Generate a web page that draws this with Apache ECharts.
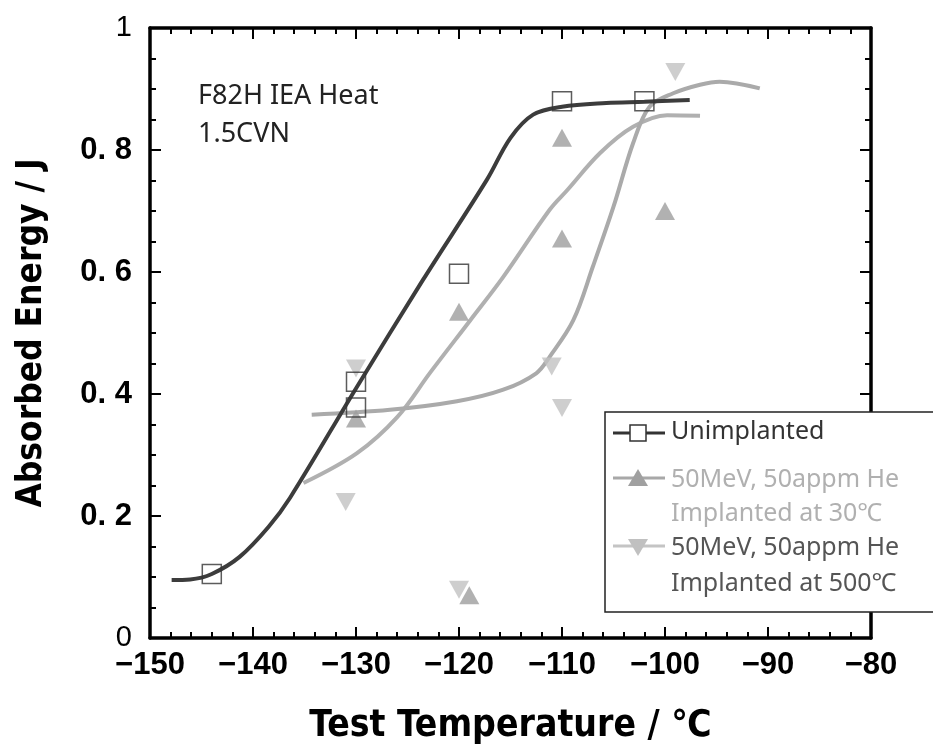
<!DOCTYPE html>
<html>
<head>
<meta charset="utf-8">
<script src="https://cdn.jsdelivr.net/npm/echarts@6/dist/echarts.min.js"></script>
<style>
  html, body { margin: 0; padding: 0; background: #fff; }
  #chart { width: 933px; height: 747px; }
</style>
</head>
<body>
<div id="chart"></div>
<script>
// measured points [temperature ℃, energy J]
const unimplPts = [[-144, 0.105], [-130, 0.42], [-130, 0.378], [-120, 0.597], [-110, 0.88], [-102, 0.88]];
const imp30Pts = [[-110, 0.82], [-110, 0.655], [-100, 0.70], [-120, 0.535], [-130, 0.36], [-119, 0.07]];
const imp500Pts = [[-99, 0.928], [-130, 0.442], [-131, 0.223], [-120, 0.079], [-111, 0.445], [-110, 0.377]];

// fitted curves
const unimplCurve = [[-147.9, 0.095], [-146.1, 0.096], [-144, 0.105], [-141.3, 0.133], [-138.5, 0.182], [-136.4, 0.23],
  [-129.9, 0.412], [-123.5, 0.587], [-117.3, 0.751], [-115, 0.82], [-112.8, 0.858], [-110, 0.871], [-105.7, 0.877],
  [-102, 0.879], [-97.6, 0.882]];
const imp30Curve = [[-135.1, 0.254], [-129.9, 0.303], [-126, 0.362], [-122.8, 0.435], [-118.9, 0.521], [-115.7, 0.592],
  [-111.2, 0.702], [-109.5, 0.734], [-106.3, 0.795], [-103.1, 0.838], [-99.8, 0.857], [-96.6, 0.856]];
const imp500Curve = [[-134.3, 0.366], [-126.7, 0.374], [-120.2, 0.388], [-115.7, 0.407], [-112.5, 0.434], [-111.2, 0.461],
  [-108.9, 0.521], [-107, 0.609], [-105, 0.707], [-103.1, 0.811], [-101.5, 0.871], [-99.2, 0.893], [-96.6, 0.907],
  [-94.7, 0.912], [-90.8, 0.901]];

const seriesNames = ['Unimplanted', '50MeV, 50appm He\nImplanted at 30℃', '50MeV, 50appm He\nImplanted at 500℃'];

const tickFont = '"Liberation Sans", Arial, sans-serif';
const nameFont = '"DejaVu Sans Condensed", "DejaVu Sans", sans-serif';
const legendFont = '"Noto Sans", "Liberation Sans", sans-serif';

const chart = echarts.init(document.getElementById('chart'));

function frameAxis(extra, minorSplit) {
  return Object.assign({
    type: 'value',
    axisLine: { show: true, onZero: false, lineStyle: { color: '#000', width: 3.5 } },
    axisTick: { show: true, inside: true, length: 11, lineStyle: { color: '#000', width: 2 } },
    minorTick: { show: true, splitNumber: minorSplit, length: 6, lineStyle: { color: '#000', width: 2 } },
    splitLine: { show: false }
  }, extra);
}

const option = {
  animation: false,
  backgroundColor: '#fff',
  title: {
    text: 'F82H IEA Heat\n1.5CVN',
    left: 193,
    top: 72,
    textStyle: { fontFamily: legendFont, fontSize: 27, fontWeight: 'normal', color: '#222', lineHeight: 38 }
  },
  grid: { left: 150, right: 62, top: 28, bottom: 109, outerBoundsMode: 'none' },
  xAxis: [
    frameAxis({
      min: -150, max: -80, interval: 10, position: 'bottom',
      axisLabel: {
        margin: 12, color: '#000', fontFamily: tickFont, fontWeight: 'bold', fontSize: 31,
        formatter: v => (v < 0 ? '−' + Math.abs(v) : String(v))
      },
      name: 'Test Temperature / ℃',
      nameLocation: 'middle',
      nameGap: 70,
      nameTextStyle: { fontFamily: nameFont, fontWeight: 'bold', fontSize: 37, color: '#000' }
    }, 5),
    frameAxis({ min: -150, max: -80, interval: 10, position: 'top', axisLabel: { show: false } }, 5)
  ],
  yAxis: [
    frameAxis({
      min: 0, max: 1, interval: 0.2, position: 'left',
      axisLabel: {
        margin: 18, color: '#000', fontFamily: tickFont, fontWeight: 'bold', fontSize: 31,
        formatter: v => {
          if (v === 0 || v === 1) return '{p|' + v + '}';
          return v.toFixed(1).replace('.', '. ');
        },
        rich: { p: { fontFamily: tickFont, fontWeight: 'normal', fontSize: 29, color: '#000' } }
      },
      name: 'Absorbed Energy / J',
      nameLocation: 'middle',
      nameGap: 101,
      nameTextStyle: { fontFamily: nameFont, fontWeight: 'bold', fontSize: 35, color: '#000' }
    }, 4),
    frameAxis({ min: 0, max: 1, interval: 0.2, position: 'right', axisLabel: { show: false } }, 4)
  ],
  series: [
    {
      name: seriesNames[0] + ' fit', type: 'line', data: unimplCurve, smooth: 0.35, symbol: 'none',
      lineStyle: { color: '#3c3c3c', width: 4 }, z: 3
    },
    {
      name: seriesNames[1] + ' fit', type: 'line', data: imp30Curve, smooth: 0.35, symbol: 'none',
      lineStyle: { color: '#b0b0b0', width: 4 }, z: 2
    },
    {
      name: seriesNames[2] + ' fit', type: 'line', data: imp500Curve, smooth: 0.35, symbol: 'none',
      lineStyle: { color: '#aaaaaa', width: 4 }, z: 2
    },
    {
      name: seriesNames[0], type: 'scatter', data: unimplPts, symbol: 'rect', symbolSize: 19,
      itemStyle: { color: 'rgba(255,255,255,0)', borderColor: '#333', borderWidth: 1.5 }, z: 5
    },
    {
      name: seriesNames[1], type: 'scatter', data: imp30Pts, symbol: 'triangle', symbolSize: [20, 18],
      itemStyle: { color: '#9e9e9e' }, z: 4
    },
    {
      name: seriesNames[2], type: 'scatter', data: imp500Pts, symbol: 'triangle', symbolRotate: 180,
      symbolSize: [20, 18], itemStyle: { color: '#c2c2c2' }, z: 4
    }
  ],
  graphic: [
    { type: 'rect', shape: { x: 605, y: 412, width: 340, height: 200 },
      style: { fill: '#fff', stroke: '#222', lineWidth: 1.5 }, z: 100 },
    // Unimplanted
    { type: 'line', shape: { x1: 613, y1: 433, x2: 665, y2: 433 }, style: { stroke: '#333', lineWidth: 3 }, z: 101 },
    { type: 'rect', shape: { x: 630, y: 425, width: 16, height: 16 },
      style: { fill: '#fff', stroke: '#333', lineWidth: 1.5 }, z: 102 },
    { type: 'text', x: 671, y: 432, z: 101,
      style: { text: 'Unimplanted', fill: '#333', fontFamily: legendFont, fontSize: 25, verticalAlign: 'middle' } },
    // 30 ℃
    { type: 'line', shape: { x1: 613, y1: 478, x2: 665, y2: 478 }, style: { stroke: '#a8a8a8', lineWidth: 3 }, z: 101 },
    { type: 'polygon', shape: { points: [[638, 469], [628, 486], [648, 486]] }, style: { fill: '#a0a0a0' }, z: 102 },
    { type: 'text', x: 671, y: 480, z: 101,
      style: { text: '50MeV, 50appm He', fill: '#b0b0b0', fontFamily: legendFont, fontSize: 25, verticalAlign: 'middle' } },
    { type: 'text', x: 671, y: 514, z: 101,
      style: { text: 'Implanted at 30℃', fill: '#b0b0b0', fontFamily: legendFont, fontSize: 25, verticalAlign: 'middle' } },
    // 500 ℃
    { type: 'line', shape: { x1: 613, y1: 546, x2: 665, y2: 546 }, style: { stroke: '#c4c4c4', lineWidth: 3 }, z: 101 },
    { type: 'polygon', shape: { points: [[628, 539], [648, 539], [638, 556]] }, style: { fill: '#c0c0c0' }, z: 102 },
    { type: 'text', x: 671, y: 548, z: 101,
      style: { text: '50MeV, 50appm He', fill: '#555', fontFamily: legendFont, fontSize: 25, verticalAlign: 'middle' } },
    { type: 'text', x: 671, y: 584, z: 101,
      style: { text: 'Implanted at 500℃', fill: '#555', fontFamily: legendFont, fontSize: 25, verticalAlign: 'middle' } }
  ]
};

chart.setOption(option);
</script>
</body>
</html>
